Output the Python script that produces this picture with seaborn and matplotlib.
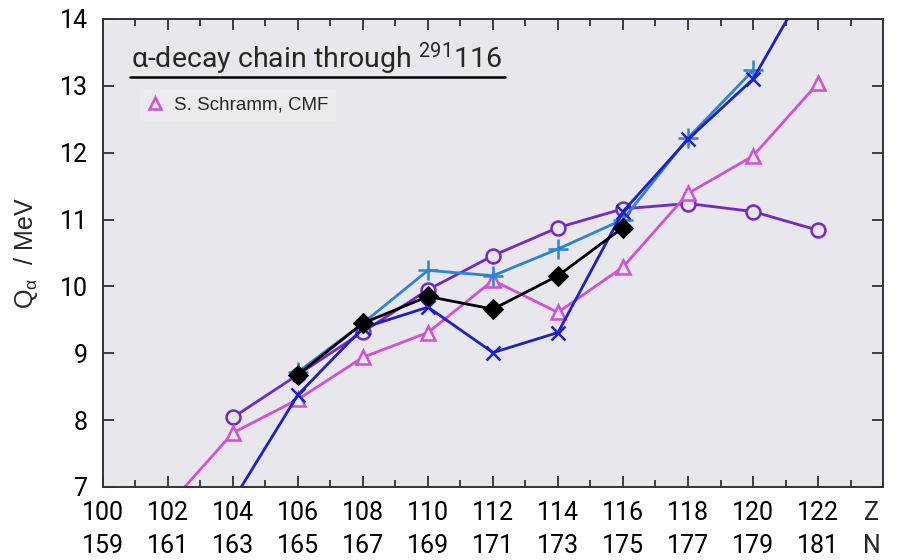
import numpy as np
import pandas as pd
import matplotlib
matplotlib.use('Agg')
import matplotlib.pyplot as plt
from matplotlib.lines import Line2D
import seaborn as sns

# proton numbers along the chain
z_circ = [104, 106, 108, 110, 112, 114, 116, 118, 120, 122]
q_circ = [8.04, 8.68, 9.32, 9.95, 10.46, 10.88, 11.16, 11.24, 11.12, 10.84]

z_tri = [102, 104, 106, 108, 110, 112, 114, 116, 118, 120, 122]
q_tri = [6.72, 7.81, 8.31, 8.94, 9.31, 10.09, 9.61, 10.29, 11.39, 11.95, 13.04]

z_plus = [106, 108, 110, 112, 114, 116, 118, 120]
q_plus = [8.72, 9.45, 10.24, 10.16, 10.56, 11.0, 12.22, 13.23]

z_cross = [104, 106, 108, 110, 112, 114, 116, 118, 120, 122]
q_cross = [6.8, 8.38, 9.38, 9.69, 9.01, 9.31, 11.12, 12.2, 13.1, 14.8]

z_diam = [106, 108, 110, 112, 114, 116]
q_diam = [8.68, 9.45, 9.85, 9.66, 10.16, 10.88]

z_ticks = [100, 102, 104, 106, 108, 110, 112, 114, 116, 118, 120, 122]
n_ticks = [159, 161, 163, 165, 167, 169, 171, 173, 175, 177, 179, 181]
y_ticks = [7, 8, 9, 10, 11, 12, 13, 14]

bg = '#e7e7ed'
sns.set_style('ticks')
plt.rcParams['font.family'] = ['Roboto', 'DejaVu Sans']
plt.rcParams['mathtext.fontset'] = 'custom'
plt.rcParams['mathtext.rm'] = 'Roboto'

fig = plt.figure(figsize=(8.97, 5.6), dpi=100)
ax = fig.add_axes([0.1148, 0.1304, 0.8696, 0.8357])
ax.set_facecolor(bg)

lw = 2.0
sns.lineplot(x=z_circ, y=q_circ, ax=ax, color='#7428c8', lw=lw, marker='o', ms=10,
             mfc=bg, mec='#7428c8', mew=1.8, sort=False)
sns.lineplot(x=z_tri, y=q_tri, ax=ax, color='#d24fd8', lw=lw, marker='^', ms=10,
             mfc=bg, mec='#d24fd8', mew=1.8, sort=False)
sns.lineplot(x=z_plus, y=q_plus, ax=ax, color='#2c82d6', lw=lw, marker='+', ms=14,
             mec='#2c82d6', mew=1.8, sort=False)
sns.lineplot(x=z_cross, y=q_cross, ax=ax, color='#1d20c4', lw=lw, marker='x', ms=10,
             mec='#1d20c4', mew=1.8, sort=False)
sns.lineplot(x=z_diam, y=q_diam, ax=ax, color='black', lw=lw, marker='D', ms=10,
             mfc='black', mec='black', sort=False)

ax.set_xlim(100, 124)
ax.set_ylim(7, 14)
ax.set_xticks(z_ticks)
ax.set_xticklabels([f'{z}\n{n}' for z, n in zip(z_ticks, n_ticks)], linespacing=1.5)
ax.set_xticks(np.arange(101, 124, 2), minor=True)
ax.set_yticks(y_ticks)
ax.set_yticklabels([str(v) for v in y_ticks])
ax.tick_params(axis='both', which='major', direction='in', length=8, width=1.2,
               top=True, right=True, labelsize=18, colors='#222222', labelcolor='black')
ax.tick_params(axis='x', which='major', pad=10)
ax.tick_params(axis='y', which='major', pad=11)
ax.tick_params(axis='x', which='minor', direction='in', length=5, width=1.2,
               top=True, colors='#222222')
for s in ax.spines.values():
    s.set_color('#333333')
    s.set_linewidth(1.4)

ax.annotate('Z\nN', xy=(123.65, 0), xycoords=ax.get_xaxis_transform(),
            xytext=(0, -10), textcoords='offset points', ha='center', va='top',
            fontsize=18, linespacing=1.5)

ax.set_ylabel(r'Q$_\mathregular{α}$  / MeV', fontsize=18, family='Liberation Sans', labelpad=14)

# title with underline
ax.text(0.036, 0.915, r'α-decay chain through $\mathregular{^{291}}$116', transform=ax.transAxes,
        fontsize=20.5, ha='left', va='center')
ax.plot([0.035, 0.515], [0.876, 0.876], transform=ax.transAxes, color='black', lw=1.8)

tri = Line2D([], [], color='#d24fd8', marker='^', ls='none', ms=9, mfc=bg, mew=1.8)
leg = ax.legend([tri], ['S. Schramm, CMF'], loc='upper left', bbox_to_anchor=(0.036, 0.87),
                frameon=True, fancybox=False, facecolor='#eaeaef', edgecolor='none',
                framealpha=1, handlelength=0.8, handletextpad=0.6,
                prop={'family': 'Liberation Sans', 'size': 13.5})

fig.savefig('out.png', dpi=100)
